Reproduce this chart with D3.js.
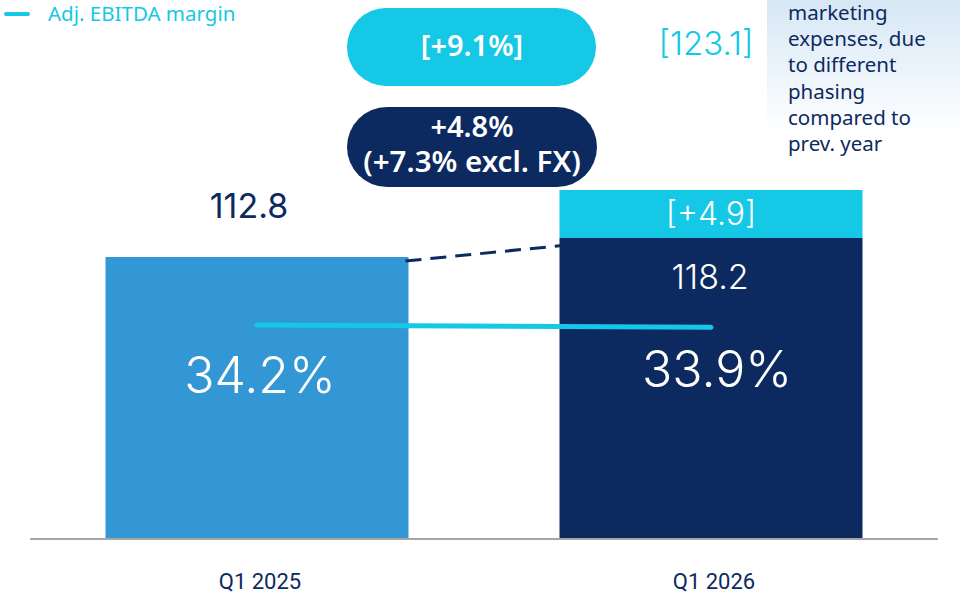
<!DOCTYPE html>
<html lang="en">
<head>
<meta charset="UTF-8">
<title>Adj. EBITDA Q1</title>
<script src="https://cdnjs.cloudflare.com/ajax/libs/d3/7.8.5/d3.min.js"></script>
<style>
  body { margin: 0; background: #fff; overflow: hidden; }
  svg { display: block; font-family: Inter, Roboto, sans-serif; }
</style>
</head>
<body>
<div id="chart"></div>
<script>
// data
const quarters = ["Q1 2025", "Q1 2026"];
const ebitda = [112.8, 118.2];
const margins = [34.2, 33.9];
const proForma = 4.9;          // bracketed add-on on Q1 2026
const proFormaTotal = 123.1;
const growthReported = "+4.8%";
const growthExFx = "(+7.3% excl. FX)";
const growthProForma = "[+9.1%]";
const noteLines = ["marketing", "expenses, due", "to different", "phasing", "compared to", "prev. year"];

const W = 960, H = 593;
const navy = "#0d2a60", cyan = "#14c8e6", blue = "#3396d5";

const svg = d3.select("#chart").append("svg").attr("width", W).attr("height", H);

const x = d3.scaleBand().domain(quarters).range([30, 938])
    .paddingInner(0.3326).paddingOuter(0.1663);
// bars are drawn on a truncated axis, as in the slide
const y = d3.scaleLinear().domain([32.9, 118.2]).range([538, 238]);
const bracketH = d3.scaleLinear().domain([0, proForma]).range([0, 48]);
const ym = d3.scaleLinear().domain([33, 35]).range([334, 319]);

// note box with fading background
const grad = svg.append("defs").append("linearGradient")
    .attr("id", "fade").attr("x1", 0).attr("y1", 0).attr("x2", 0).attr("y2", 1);
grad.append("stop").attr("offset", "0%").attr("stop-color", "#d6e7f5");
grad.append("stop").attr("offset", "100%").attr("stop-color", "#ffffff");
svg.append("rect").attr("x", 767).attr("y", 0).attr("width", 193).attr("height", 135)
    .attr("fill", "url(#fade)");
svg.append("g").selectAll("text").data(noteLines).join("text")
    .attr("x", 788).attr("y", (d, i) => 20 + i * 26.2)
    .attr("fill", navy).attr("font-family", "'Noto Sans', sans-serif")
    .attr("font-size", 20.5).attr("font-weight", 400).text(d => d);

// legend
svg.append("line").attr("x1", 6).attr("x2", 28).attr("y1", 14).attr("y2", 14)
    .attr("stroke", cyan).attr("stroke-width", 4).attr("stroke-linecap", "round");
svg.append("text").attr("x", 48).attr("y", 21).attr("fill", cyan)
    .attr("font-family", "'Noto Sans', sans-serif").attr("font-size", 20.5)
    .text("Adj. EBITDA margin");

// bars
svg.append("g").selectAll("rect").data(quarters).join("rect")
    .attr("x", d => x(d)).attr("width", x.bandwidth())
    .attr("y", (d, i) => y(ebitda[i])).attr("height", (d, i) => y.range()[0] - y(ebitda[i]))
    .attr("fill", (d, i) => i === 0 ? blue : navy);

// bracketed pro-forma segment
svg.append("rect").attr("x", x(quarters[1])).attr("width", x.bandwidth())
    .attr("y", y(ebitda[1]) - bracketH(proForma)).attr("height", bracketH(proForma))
    .attr("fill", cyan);
svg.append("text").attr("x", x(quarters[1]) + x.bandwidth() / 2)
    .attr("y", y(ebitda[1]) - bracketH(proForma) / 2 + 11)
    .attr("text-anchor", "middle").attr("fill", "#fff").attr("font-size", 32)
    .attr("font-weight", 300).text(`[+${proForma.toFixed(1)}]`);

// axis line
svg.append("line").attr("x1", 30).attr("x2", 938).attr("y1", 539).attr("y2", 539)
    .attr("stroke", "#a6a6a6").attr("stroke-width", 2);

// category labels
svg.append("g").selectAll("text").data(quarters).join("text")
    .attr("x", d => x(d) + x.bandwidth() / 2 + 3).attr("y", 589)
    .attr("text-anchor", "middle").attr("fill", navy)
    .attr("font-family", "Roboto, sans-serif").attr("font-size", 22)
    .text(d => d);

// EBITDA value labels
svg.append("text").attr("x", x(quarters[0]) + x.bandwidth() / 2 - 8).attr("y", y(ebitda[0]) - 39)
    .attr("text-anchor", "middle").attr("fill", navy).attr("font-size", 34)
    .text(ebitda[0].toFixed(1));
svg.append("text").attr("x", x(quarters[1]) + x.bandwidth() / 2 - 1).attr("y", y(ebitda[1]) + 51)
    .attr("text-anchor", "middle").attr("fill", "#fff").attr("font-size", 34)
    .attr("font-weight", 300).text(ebitda[1].toFixed(1));

// dashed connector
const x0 = x(quarters[0]) + x.bandwidth() - 3, x1 = x(quarters[1]) + 8;
svg.append("line").attr("x1", x0).attr("y1", y(ebitda[0]) + 4)
    .attr("x2", x1).attr("y2", y(ebitda[1]) + 7)
    .attr("stroke", navy).attr("stroke-width", 3).attr("stroke-dasharray", "16,9");

// margin line
const line = d3.line().x(d => d[0]).y(d => d[1]);
svg.append("path")
    .attr("d", line(quarters.map((q, i) => [x(q) + x.bandwidth() / 2, ym(margins[i])])))
    .attr("fill", "none").attr("stroke", cyan).attr("stroke-width", 5).attr("stroke-linecap", "round");

// margin labels
svg.append("g").selectAll("text").data(quarters).join("text")
    .attr("x", (d, i) => x(d) + x.bandwidth() / 2 + (i === 0 ? 3 : 6))
    .attr("y", (d, i) => i === 0 ? 393 : 387)
    .attr("text-anchor", "middle").attr("fill", "#fff").attr("font-size", 50)
    .attr("font-weight", 300).text((d, i) => margins[i].toFixed(1) + "%");

// growth pills
const pill = svg.append("g").attr("font-family", "'Noto Sans', sans-serif")
    .attr("font-weight", 600).attr("fill", "#fff").attr("text-anchor", "middle");
pill.append("rect").attr("x", 347).attr("y", 8).attr("width", 249).attr("height", 78)
    .attr("rx", 39).attr("fill", cyan);
pill.append("text").attr("x", 472).attr("y", 56).attr("font-size", 29).text(growthProForma);
pill.append("rect").attr("x", 347).attr("y", 107).attr("width", 250).attr("height", 80)
    .attr("rx", 40).attr("fill", navy);
pill.append("text").attr("x", 472).attr("y", 137).attr("font-size", 29).text(growthReported);
pill.append("text").attr("x", 472).attr("y", 172).attr("font-size", 29.5).text(growthExFx);

// pro-forma total
svg.append("text").attr("x", 706).attr("y", 55).attr("text-anchor", "middle")
    .attr("fill", cyan).attr("font-size", 33).attr("font-weight", 300)
    .text(`[${proFormaTotal.toFixed(1)}]`);
</script>
</body>
</html>
